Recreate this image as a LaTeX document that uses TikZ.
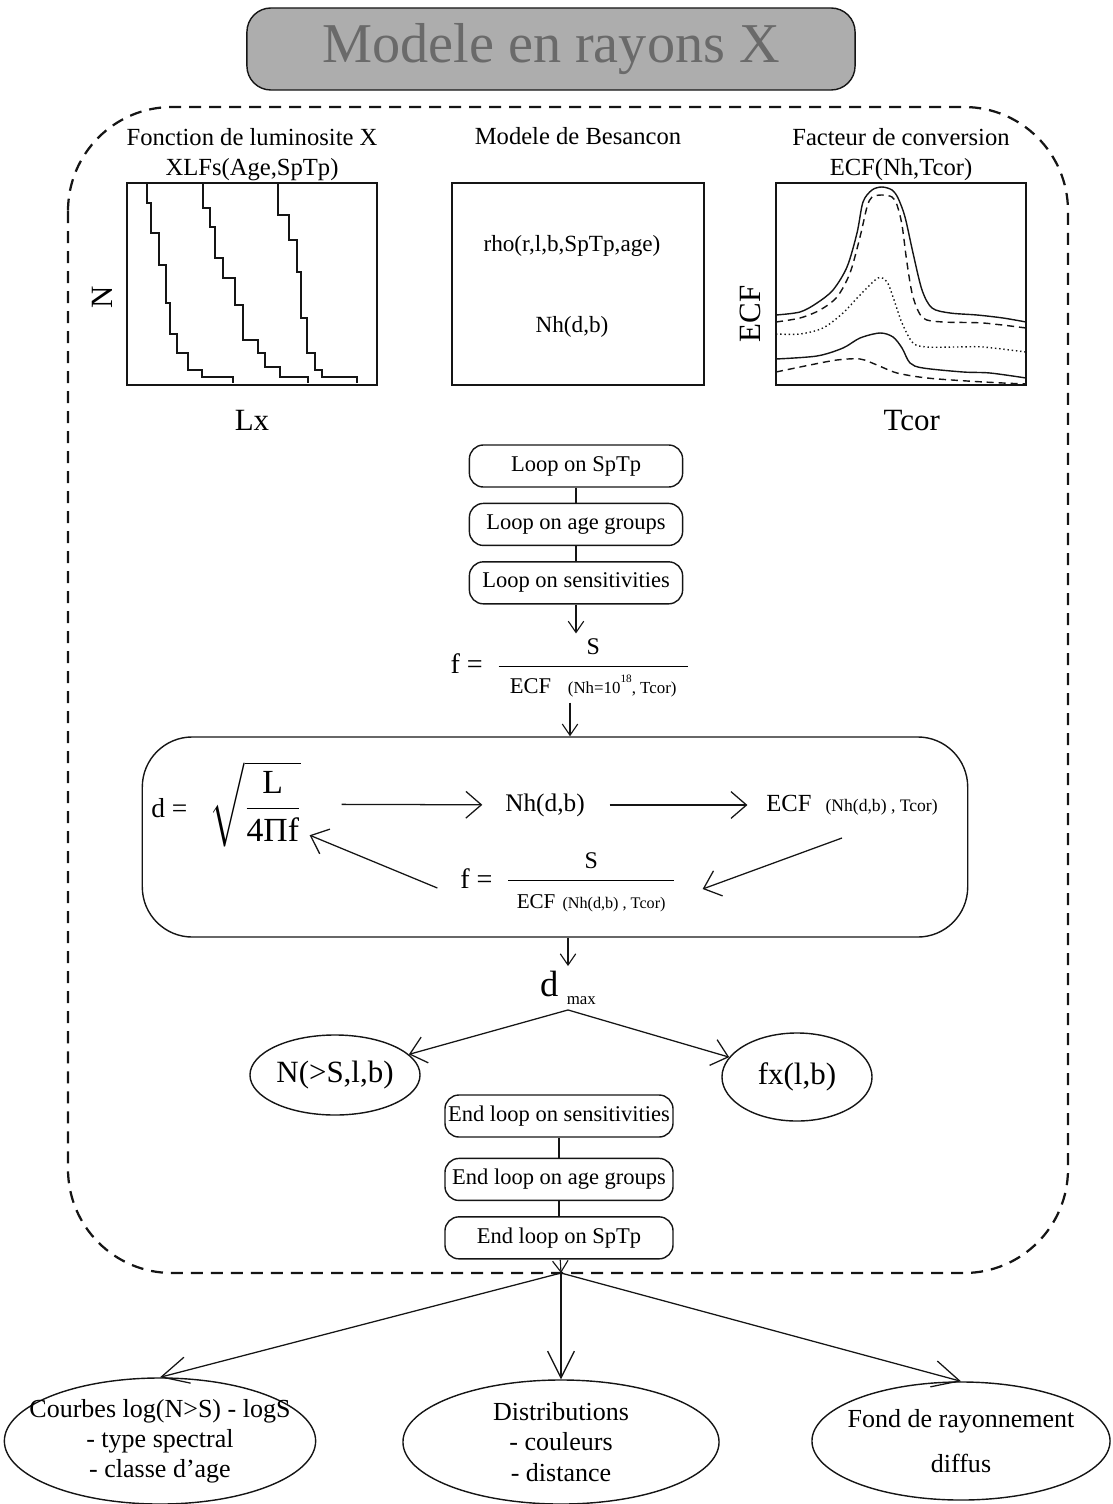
\documentclass[tikz,border=0pt]{standalone}
\usepackage{amsmath}
\usepackage{fontspec}
\setmainfont{Liberation Serif}
\usepackage{tikz}
\usetikzlibrary{arrows.meta, positioning, shapes.geometric}
\definecolor{xrInk}{HTML}{151515}
\definecolor{xrShade}{HTML}{ADADAD}
\definecolor{xrShadeText}{HTML}{6A6A6A}
\newcommand{\xrfs}[2]{\fontsize{#1}{#2}\selectfont}
\tikzset{
  xr-title/.style={
    rectangle, rounded corners=0.6cm, draw=xrInk, line width=1pt,
    fill=xrShade, text=xrShadeText, minimum width=15.2cm,
    minimum height=2.05cm, font=\xrfs{40}{44}
  },
  xr-frame/.style={
    draw=xrInk, line width=1.6pt, dash pattern=on 0.3cm off 0.2cm,
    rounded corners=2.6cm
  },
  xr-panel/.style={
    rectangle, draw=xrInk, line width=1.6pt,
    minimum width=6.25cm, minimum height=5.03cm
  },
  xr-label/.style={inner sep=1pt, align=center, font=\xrfs{17.5}{21.5}},
  xr-axis/.style={inner sep=1pt, font=\xrfs{22}{24}},
  xr-loop/.style={
    rectangle, rounded corners=0.35cm, draw=xrInk, line width=1pt,
    minimum width=5.33cm, minimum height=1.05cm, inner xsep=2pt,
    font=\xrfs{16}{18}
  },
  xr-iter/.style={
    rectangle, rounded corners=1.25cm, draw=xrInk, line width=1pt,
    minimum width=20.63cm, minimum height=5cm
  },
  xr-formula/.style={font=\xrfs{20}{24}},
  xr-oval/.style={
    ellipse, draw=xrInk, line width=1pt, inner sep=0pt, align=center
  },
  xr-curve/.style={draw=xrInk, line width=1pt},
  xr-curve-dash/.style={xr-curve, dash pattern=on 5pt off 3.5pt},
  xr-curve-dot/.style={xr-curve, dash pattern=on 1pt off 2pt},
  xr-link/.style={draw=xrInk, line width=0.8pt},
  xr-flow/.style={draw=xrInk, line width=0.8pt,
    -{Straight Barb[length=8pt,width=11pt]}},
  xr-flow-big/.style={draw=xrInk, line width=0.9pt,
    -{Straight Barb[length=11pt,width=19pt]}},
  xr-flow-out/.style={draw=xrInk, line width=0.9pt,
    -{Straight Barb[length=19pt,width=19pt]}},
}

\begin{document}
\begin{tikzpicture}[x=0.025cm, y=-0.025cm]
  \useasboundingbox (0,0) rectangle (1112,1504);

  \node[xr-title] (title) at (551,49) {Modele en rayons X};

  \draw[xr-frame] (68,107) rectangle (1068,1273);

  % input panels
  \node[xr-panel] (xlf) at (252,284) {};
  \node[xr-label, above=0pt of xlf] (xlftxt)
    {Fonction de luminosite X\\XLFs(Age,SpTp)};
  \node[xr-axis, rotate=90, left=0.58cm of xlf] (xlfn) {N};
  \node[xr-axis, below=0.56cm of xlf] (xlflx) {Lx};

  \node[xr-panel, minimum width=6.3cm] (bes) at (578,284) {};
  \node[xr-label, above=0.9cm of bes] (bestxt) {Modele de Besancon};
  \node[xr-label, font=\xrfs{16.5}{20}] (rho) at (572,246) {rho(r,l,b,SpTp,age)};
  \node[xr-label, font=\xrfs{16.5}{20}] (nhin) at (572,327) {Nh(d,b)};

  \node[xr-panel] (ecf) at (901,284) {};
  \node[xr-label, above=0pt of ecf] (ecftxt)
    {Facteur de conversion\\ECF(Nh,Tcor)};
  \node[xr-axis, rotate=90, left=0.6cm of ecf] (ecfy) {ECF};
  \node[xr-axis, below=0.56cm of ecf, xshift=0.27cm] (ecfx) {Tcor};

  % luminosity functions
  \draw[xr-curve] (147,183) |- (151,203) |- (159,233) |- (166,265) |- (170,303)
    |- (177,334) |- (188,353) |- (202,370) |- (233,377) -- (233,383);
  \draw[xr-curve] (203,183) |- (210,208) |- (215,227) |- (223,258) |- (235,278)
    |- (243,305) |- (258,340) |- (265,353) |- (280,367) |- (308,377) -- (308,383);
  \draw[xr-curve] (278,183) |- (289,215) |- (297,240) |- (301,272) |- (307,318)
    |- (315,353) |- (322,370) |- (357,377) -- (357,383);

  % conversion factors
  \draw[xr-curve] plot[smooth, tension=0.5] coordinates {(776,315) (800,312)
    (817,303) (833,290) (847,267) (857,233) (863,202) (872,190) (882,187)
    (892,190) (898,198) (905,217) (913,253) (922,290) (932,308) (950,313)
    (977,315) (1003,318) (1026,322)};
  \draw[xr-curve-dash] plot[smooth, tension=0.5] coordinates {(776,322)
    (800,318) (820,310) (837,297) (850,273) (860,237) (867,207) (872,197)
    (882,195) (892,197) (897,205) (902,225) (907,263) (913,297) (923,318)
    (943,322) (983,323) (1026,328)};
  \draw[xr-curve-dot] plot[smooth, tension=0.5] coordinates {(776,334)
    (800,334) (823,328) (843,313) (860,295) (878,278) (887,282) (893,297)
    (902,323) (913,343) (927,347) (957,347) (983,347) (1026,352)};
  \draw[xr-curve] plot[smooth, tension=0.5] coordinates {(776,359) (817,356)
    (843,348) (860,338) (880,333) (893,337) (902,348) (910,363) (923,368)
    (963,372) (990,373) (1026,378)};
  \draw[xr-curve-dash] plot[smooth, tension=0.5] coordinates {(776,372)
    (810,365) (837,360) (860,359) (877,365) (897,373) (927,378) (967,381)
    (1003,383) (1026,384)};

  % loops
  \node[xr-loop] (lsptp) at (576,466) {Loop on SpTp};
  \node[xr-loop, below=0.375cm of lsptp] (lage) {Loop on age groups};
  \node[xr-loop, below=0.375cm of lage] (lsens) {Loop on sensitivities};
  \draw[xr-link] (lsptp) -- (lage);
  \draw[xr-link] (lage) -- (lsens);

  \node[xr-formula] (fsens) at (570,668) {f =\hspace{10pt}$\dfrac{\mbox{\xrfs{17}{17}S}}%
    {\hspace{8pt}\mbox{\xrfs{16}{16}ECF\hspace{12pt}\xrfs{12}{12}(Nh=10\raisebox{1.5ex}{\xrfs{8}{8}18}, Tcor)}\hspace{8pt}}$};
  \draw[xr-flow] (lsens.south) -- (lsens.south |- fsens.north);

  % iteration on distance
  \node[xr-iter] (iter) at (555,837) {};
  \draw[xr-flow] (fsens.south) -- (fsens.south |- iter.north);

  \node[xr-formula, font=\xrfs{19.5}{22}] (dform) at (226,804)
    {d =\hspace{16pt}{\xrfs{24}{28}$\sqrt{\dfrac{\mbox{L}}{\mbox{4Πf}}}$}};
  \node[xr-formula, font=\xrfs{18}{20}] (nhdb) at (545,805) {Nh(d,b)};
  \node[xr-formula] (ecf2) at (852,805)
    {\xrfs{17.5}{20}ECF\hspace{10pt}\xrfs{12.5}{14}(Nh(d,b) , Tcor)};
  \node[xr-formula] (floop) at (568,882) {f =\hspace{10pt}$\dfrac{\mbox{\xrfs{17}{17}S}}%
    {\hspace{6pt}\mbox{\xrfs{15}{15}ECF\hspace{5pt}\xrfs{11.5}{11.5}(Nh(d,b) , Tcor)}\hspace{6pt}}$};

  \draw[xr-flow-big, shorten <=0.9cm, shorten >=0.45cm] (dform) -- (nhdb);
  \draw[xr-flow-big, shorten <=0.5cm, shorten >=0.35cm] (nhdb) -- (ecf2);
  \draw[xr-flow-big] ([xshift=-0.25cm, yshift=-0.45cm]ecf2.south)
    -- ([xshift=0.55cm, yshift=-0.175cm]floop.east);
  \draw[xr-flow-big] ([xshift=-0.45cm, yshift=-0.15cm]floop.west)
    -- ([xshift=0.1cm, yshift=-0.78cm]dform.east);

  % results per sensitivity
  \node[xr-formula] (dmax) at (568,988)
    {\xrfs{26}{28}d\hspace{6pt}\raisebox{-6pt}{\xrfs{12}{12}max}};
  \draw[xr-flow] (iter.south -| dmax.north) -- (dmax.north);

  \node[xr-oval, minimum width=4.25cm, minimum height=2cm,
        font=\xrfs{22}{24}] (nslb) at (335,1075) {N(>S,l,b)};
  \node[xr-oval, minimum width=3.75cm, minimum height=2.2cm,
        font=\xrfs{22}{24}] (fxlb) at (797,1077) {fx(l,b)};
  \draw[xr-flow-big] (dmax.south) -- (nslb);
  \draw[xr-flow-big] (dmax.south) -- (fxlb);

  \node[xr-loop, minimum width=5.7cm] (esens) at (559,1116) {End loop on sensitivities};
  \node[xr-loop, minimum width=5.7cm, below=0.5cm of esens] (eage) {End loop on age groups};
  \node[xr-loop, minimum width=5.7cm, below=0.375cm of eage] (esptp) {End loop on SpTp};
  \draw[xr-link] (esens) -- (eage);
  \draw[xr-link] (eage) -- (esptp);

  % outputs
  \coordinate (hub) at (561,1273);
  \draw[xr-flow] (esptp) -- (hub);

  \node[xr-oval, minimum width=7.78cm, minimum height=3.15cm, inner xsep=-1.6cm,
        font=\xrfs{18.5}{21.5}] (logns) at (160,1441)
    {Courbes log(N>S) - logS\\- type spectral\\- classe d'age};
  \node[xr-oval, minimum width=7.9cm, minimum height=3.1cm, inner xsep=-1cm,
        font=\xrfs{18.5}{21.5}] (distr) at (561,1442)
    {Distributions\\- couleurs\\- distance};
  \node[xr-oval, minimum width=7.45cm, minimum height=2.95cm, inner xsep=-1.2cm,
        font=\xrfs{18.5}{32}] (fond) at (961,1441)
    {Fond de rayonnement\\diffus};

  \draw[xr-flow-out] (hub) -- (logns.north);
  \draw[xr-flow-out] (hub) -- (distr.north);
  \draw[xr-flow-out] (hub) -- (fond.north);
\end{tikzpicture}
\end{document}
